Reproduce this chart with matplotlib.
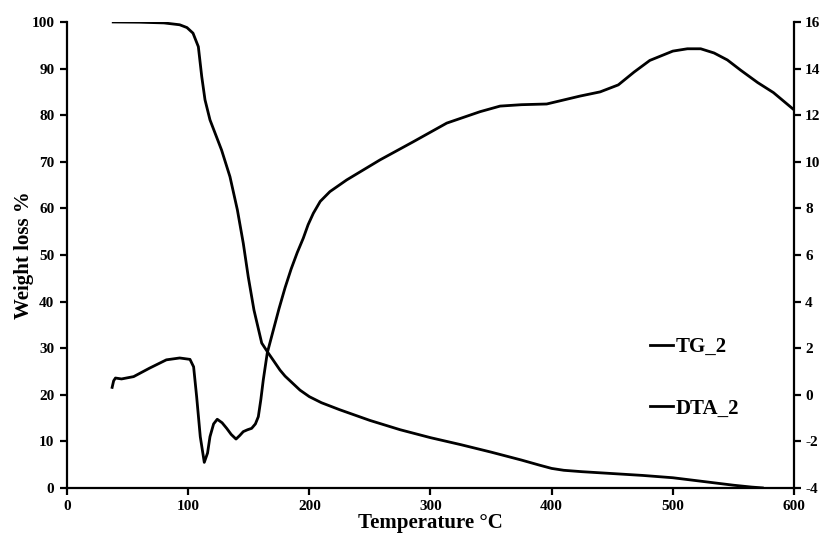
import matplotlib
matplotlib.use("Agg")
import matplotlib.pyplot as plt
from matplotlib.lines import Line2D

plt.rcParams['font.family'] = ['Liberation Serif', 'DejaVu Serif']
plt.rcParams['font.weight'] = 'bold'
plt.rcParams['axes.unicode_minus'] = False

# TG_2 (left axis, weight %)
tg_temp = [37, 60, 80, 93, 99, 104, 108.4, 111.2, 113.9, 118, 127.6, 134.5, 140.6, 145.5,
           149.6, 154.3, 160.7, 166, 170, 175.8, 180, 192.3, 200, 210,
           225, 250, 275, 300, 325, 350, 375, 390, 400, 410, 425, 450, 475, 500, 525,
           550, 565, 575]
tg_val = [100, 99.95, 99.8, 99.4, 98.8, 97.6, 94.7, 88.3, 83.3, 79, 72.5, 66.8, 59.7, 52.5,
          45.3, 38.2, 31.1, 29.0, 27.5, 25.3, 24.0, 21.0, 19.6, 18.3,
          16.8, 14.5, 12.5, 10.8, 9.3, 7.7, 6.0, 4.9, 4.2, 3.8, 3.5, 3.1, 2.7, 2.2, 1.4,
          0.6, 0.2, 0.0]

# DTA_2 (right axis)
dta_temp = [37, 38.5, 40, 45, 55, 68, 82, 93, 101.5, 104.5, 107, 110, 113.3, 116, 118, 121,
            124, 128, 131.8, 135.5, 139.5, 142.5, 145.5, 149, 152.4, 155.5, 157.9, 160, 162,
            165.3, 170.3, 175, 180, 185, 190, 195, 199, 203.3, 209, 217, 230.8, 258.3, 285.8,
            313.4, 340.9, 357.4, 375, 395.9, 404, 423.4, 440, 455, 468, 481, 500, 512, 523,
            534, 545, 556, 570, 583, 600]
dta_val = [0.26, 0.6, 0.72, 0.68, 0.78, 1.14, 1.5, 1.58, 1.52, 1.2, -0.08, -1.8, -2.9, -2.5,
           -1.8, -1.25, -1.05, -1.2, -1.44, -1.7, -1.9, -1.75, -1.58, -1.5, -1.44, -1.25, -0.94,
           -0.2, 0.64, 1.8, 2.78, 3.7, 4.6, 5.4, 6.1, 6.72, 7.3, 7.79, 8.3, 8.72, 9.22, 10.08,
           10.86, 11.66, 12.15, 12.39, 12.45, 12.48, 12.58, 12.82, 13.0, 13.3, 13.85, 14.35,
           14.75, 14.85, 14.85, 14.67, 14.37, 13.93, 13.4, 12.97, 12.23]

x_ticks = [0, 100, 200, 300, 400, 500, 600]
left_ticks = list(range(0, 101, 10))
right_ticks = list(range(-4, 17, 2))

fig = plt.figure(figsize=(8.24, 5.40), dpi=100)
ax = fig.add_axes([0.0813, 0.0963, 0.8823, 0.863])
ax2 = ax.twinx()

ax.plot(tg_temp, tg_val, color='black', lw=2.0, solid_capstyle='butt', solid_joinstyle='round')
ax2.plot(dta_temp, dta_val, color='black', lw=2.0, solid_capstyle='butt', solid_joinstyle='round')

ax.set_xlim(0, 600)
ax.set_ylim(0, 100)
ax2.set_ylim(-4, 16)
ax.set_xticks(x_ticks)
ax.set_yticks(left_ticks)
ax2.set_yticks(right_ticks)

for a in (ax, ax2):
    a.spines['top'].set_visible(False)
    for s in a.spines.values():
        s.set_linewidth(1.6)
ax.spines['right'].set_visible(False)
ax2.spines['left'].set_visible(False)
ax2.spines['bottom'].set_visible(False)

ax.tick_params(axis='both', direction='out', length=5, width=1.6, labelsize=11, pad=4)
ax2.tick_params(axis='y', direction='out', length=5, width=1.6, labelsize=11, pad=3)
for lab in ax.get_xticklabels() + ax.get_yticklabels() + ax2.get_yticklabels():
    lab.set_fontweight('bold')

ax.set_xlabel('Temperature °C', fontsize=15, fontweight='bold', labelpad=0)
ax.set_ylabel('Weight loss %', fontsize=15, fontweight='bold', labelpad=-2)

handles = [Line2D([], [], color='black', lw=2.0), Line2D([], [], color='black', lw=2.0)]
leg = ax.legend(handles, ['TG_2', 'DTA_2'], loc='upper left', bbox_to_anchor=(0.802, 0.324),
                frameon=False, fontsize=15, handlelength=1.1, handletextpad=0.15,
                labelspacing=2.0, borderpad=0, borderaxespad=0)
for t in leg.get_texts():
    t.set_fontweight('bold')

fig.savefig('out.png', dpi=100)
